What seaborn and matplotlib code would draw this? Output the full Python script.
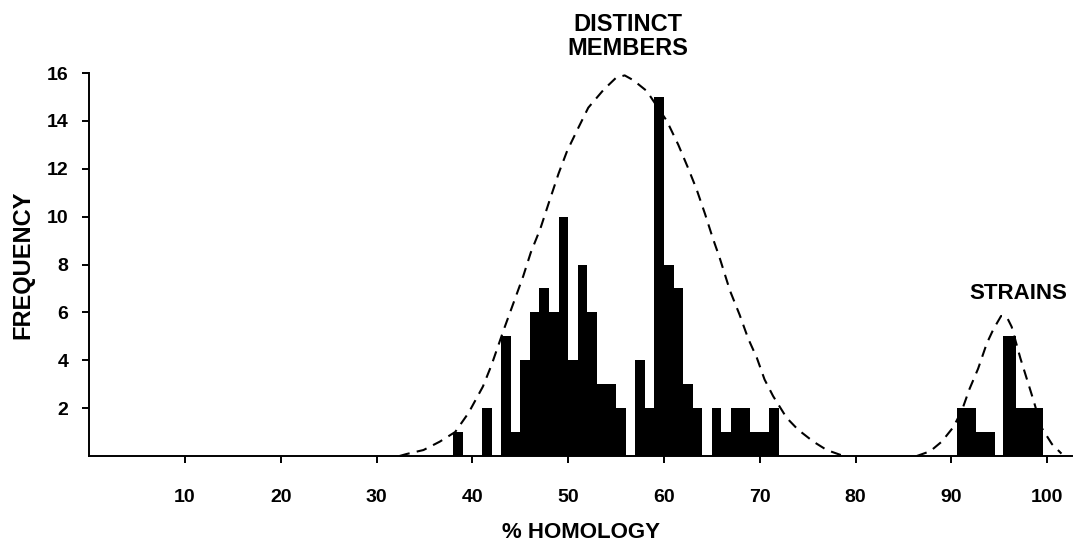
import numpy as np
import pandas as pd
import matplotlib
matplotlib.use("Agg")
import matplotlib.pyplot as plt
import seaborn as sns

# histogram of % homology, distinct members (1-unit bins, left edges)
main_left = [38, 39, 40, 41, 42, 43, 44, 45, 46, 47, 48, 49, 50, 51, 52, 53, 54,
             55, 56, 57, 58, 59, 60, 61, 62, 63, 64, 65, 66, 67, 68, 69, 70, 71]
main_count = [1, 0, 0, 2, 0, 5, 1, 4, 6, 7, 6, 10, 4, 8, 6, 3, 3,
              2, 0, 4, 2, 15, 8, 7, 3, 2, 0, 2, 1, 2, 2, 1, 1, 2]

# strains (bin edges)
strain_edges = [90.6, 92.6, 94.6, 95.4, 96.8, 99.6]
strain_count = [2, 1, 0, 5, 2]

# dashed fitted curves
curve_main_x = [32.4, 33.1, 34.9, 36.6, 38.2, 39.6, 41.1, 42.0, 43.3, 44.3, 45.3,
                46.1, 47.1, 48.0, 49.0, 49.9, 51.05, 52.1, 53.7, 55.0, 55.9, 56.8,
                58.2, 60.3, 61.5, 62.5, 63.4, 64.3, 65.1, 65.8, 66.9, 67.9, 68.8,
                69.7, 70.5, 71.4, 72.8, 74.0, 75.6, 77.0, 78.4, 79.1]
curve_main_y = [0, 0.08, 0.25, 0.6, 1.0, 1.8, 2.9, 3.8, 5.3, 6.4, 7.5,
                8.5, 9.5, 10.6, 11.8, 12.75, 13.7, 14.55, 15.3, 15.8, 15.9, 15.7,
                15.25, 14.0, 13.0, 12.05, 11.15, 10.1, 9.1, 8.3, 6.9, 5.9, 4.9,
                4.1, 3.2, 2.5, 1.6, 1.1, 0.6, 0.25, 0.05, 0]
curve_strain_x = [86.4, 87.8, 89.0, 90.2, 91.1, 91.9, 92.8, 93.7, 94.4, 95.2,
                  95.8, 96.3, 97.2, 97.9, 98.6, 99.4, 100.5, 101.5]
curve_strain_y = [0, 0.2, 0.6, 1.2, 1.9, 2.8, 3.65, 4.7, 5.3, 5.85,
                  5.8, 5.4, 4.1, 3.2, 2.3, 1.2, 0.5, 0.1]

x_ticks = [10, 20, 30, 40, 50, 60, 70, 80, 90, 100]
y_ticks = [2, 4, 6, 8, 10, 12, 14, 16]

sns.set_style("ticks")
plt.rcParams["font.family"] = ["Liberation Sans", "DejaVu Sans"]
plt.rcParams["font.weight"] = "bold"
for key in ["text.color", "axes.labelcolor", "xtick.color", "ytick.color", "axes.edgecolor"]:
    plt.rcParams[key] = "black"

W, H = 1074, 547
fig = plt.figure(figsize=(W / 100, H / 100), dpi=100)
ax = fig.add_axes([89.2 / W, 91 / H, (1072 - 89.2) / W, (456 - 73) / H])

main_edges = main_left + [main_left[-1] + 1]
main_centers = [l + 0.5 for l in main_left]
sns.histplot(x=main_centers, weights=main_count, bins=main_edges, element="step",
             fill=True, color="black", alpha=1, linewidth=0, ax=ax)

strain_centers = [(a + b) / 2 for a, b in zip(strain_edges[:-1], strain_edges[1:])]
sns.histplot(x=strain_centers, weights=strain_count, bins=strain_edges, element="step",
             fill=True, color="black", alpha=1, linewidth=0, ax=ax)

curves = pd.DataFrame({
    "x": curve_main_x + curve_strain_x,
    "y": curve_main_y + curve_strain_y,
    "grp": ["main"] * len(curve_main_x) + ["strain"] * len(curve_strain_x),
})
sns.lineplot(data=curves, x="x", y="y", units="grp", estimator=None, sort=False,
             color="black", linewidth=1.5, linestyle=(0, (5, 3.5)), ax=ax, clip_on=False)

ax.set_xlim(0, 102.6)
ax.set_ylim(0, 16)
ax.set_xticks(x_ticks)
ax.set_yticks(y_ticks)
ax.tick_params(axis="x", direction="out", length=5, width=1.4, pad=19, labelsize=14)
ax.tick_params(axis="y", direction="out", length=5, width=1.4, pad=10, labelsize=14)
for lab in ax.get_xticklabels() + ax.get_yticklabels():
    lab.set_fontweight("bold")
sns.despine(ax=ax)
ax.spines["left"].set_linewidth(1.4)
ax.spines["bottom"].set_linewidth(1.4)

ax.set_xlabel("% HOMOLOGY", fontsize=16, fontweight="bold", labelpad=11)
ax.set_ylabel("FREQUENCY", fontsize=17, fontweight="bold", labelpad=9)

fig.text(628 / W, 1 - 36.5 / H, "DISTINCT\nMEMBERS", ha="center", va="center",
         fontsize=17, fontweight="bold", linespacing=1.05)
fig.text(1018 / W, 1 - 293.5 / H, "STRAINS", ha="center", va="center",
         fontsize=16, fontweight="bold")

fig.savefig("out.png", dpi=100, facecolor="white")
